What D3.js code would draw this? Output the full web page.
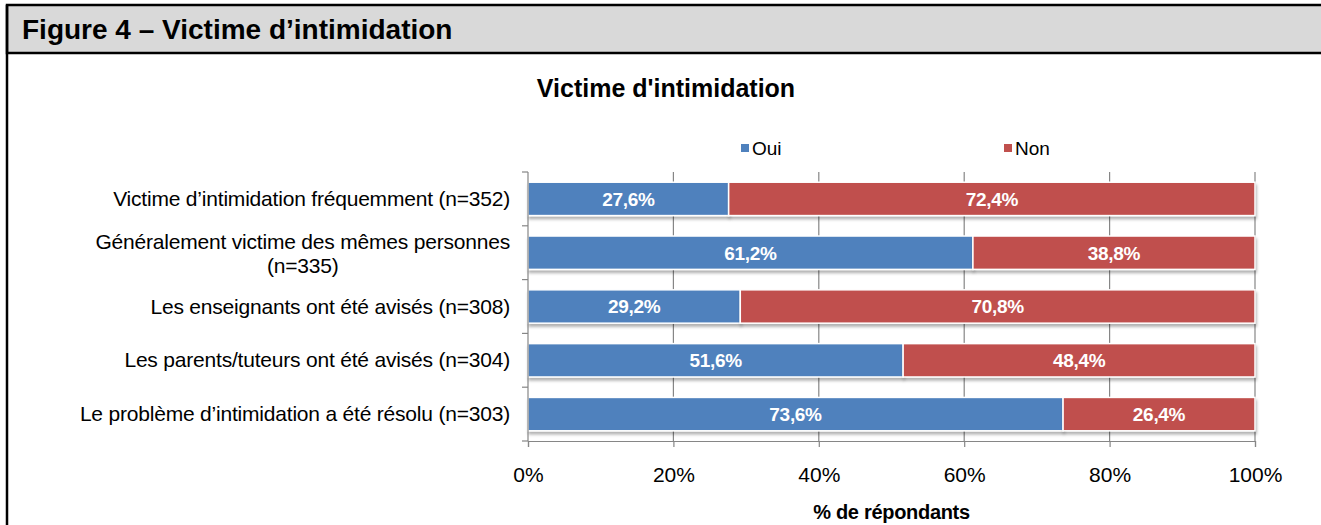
<!DOCTYPE html>
<html>
<head>
<meta charset="utf-8">
<script src="https://cdn.jsdelivr.net/npm/d3@7"></script>
<style>
  body { margin: 0; background: #fff; }
  svg { display: block; font-family: "Liberation Sans", Arial, sans-serif; }
</style>
</head>
<body>
<div class="chart"></div>
<script>
var categories = [
  ["Victime d\u2019intimidation fréquemment (n=352)"],
  ["Généralement victime des mêmes personnes", "(n=335)"],
  ["Les enseignants ont été avisés (n=308)"],
  ["Les parents/tuteurs ont été avisés (n=304)"],
  ["Le problème d\u2019intimidation  a été résolu (n=303)"]
];
var oui = [27.6, 61.2, 29.2, 51.6, 73.6];
var non = [72.4, 38.8, 70.8, 48.4, 26.4];
var seriesNames = ["Oui", "Non"];
var seriesColors = ["#4f81bd", "#c0504d"];
var xTicks = [0, 20, 40, 60, 80, 100];

var W = 1321, H = 525;
var margin = {top: 172, left: 528, right: 66, bottom: 84};
var width = W - margin.left - margin.right,
    height = H - margin.top - margin.bottom;

var svg = d3.select(".chart").append("svg")
    .attr("width", W)
    .attr("height", H);

// drop shadow under the bars
var defs = svg.append("defs");
var f = defs.append("filter").attr("id", "shadow")
    .attr("x", "-5%").attr("y", "-20%").attr("width", "110%").attr("height", "160%");
f.append("feDropShadow").attr("dx", 1).attr("dy", 3)
    .attr("stdDeviation", 1.5).attr("flood-color", "#000").attr("flood-opacity", 0.3);

// frame: header band + left border
svg.append("rect").attr("x", 7).attr("y", 5).attr("width", W).attr("height", 48)
    .attr("fill", "#d9d9d9").attr("stroke", "#000").attr("stroke-width", 2.5);
svg.append("line").attr("x1", 7).attr("x2", 7).attr("y1", 5).attr("y2", H)
    .attr("stroke", "#000").attr("stroke-width", 2.5);
svg.append("text").attr("x", 22).attr("y", 39)
    .attr("font-size", 28).attr("font-weight", "bold").attr("fill", "#000")
    .text("Figure 4 \u2013 Victime d\u2019intimidation");

svg.append("text").attr("x", 666).attr("y", 97)
    .attr("text-anchor", "middle").attr("font-size", 25).attr("font-weight", "bold")
    .text("Victime d'intimidation");

// legend
var legendX = [741, 1004];
seriesNames.forEach(function(name, i) {
  svg.append("rect").attr("x", legendX[i]).attr("y", 144).attr("width", 8).attr("height", 8)
      .attr("fill", seriesColors[i]);
  svg.append("text").attr("x", legendX[i] + 11).attr("y", 155)
      .attr("font-size", 19).text(name);
});

var g = svg.append("g")
    .attr("transform", "translate(" + margin.left + "," + margin.top + ")");

var x = d3.scaleLinear().domain([0, 100]).range([0, width]);
var y = d3.scaleBand().domain(d3.range(categories.length)).range([0, height]).paddingInner(0.38).paddingOuter(0.19);
var band = d3.scaleBand().domain(d3.range(categories.length)).range([0, height]);

// gridlines
g.selectAll(".grid").data(xTicks.slice(1)).enter().append("line")
    .attr("x1", function(d) { return x(d); }).attr("x2", function(d) { return x(d); })
    .attr("y1", 0).attr("y2", height)
    .attr("stroke", "#868686").attr("stroke-width", 1.2);

var stacked = oui.map(function(v, i) {
  return [{s: 0, x0: 0, x1: v}, {s: 1, x0: v, x1: v + non[i]}];
});

var rows = g.selectAll(".row").data(stacked).enter().append("g")
    .attr("class", "row")
    .attr("transform", function(d, i) { return "translate(0," + y(i) + ")"; });

rows.selectAll("rect").data(function(d) { return d; }).enter().append("rect")
    .attr("x", function(d) { return x(d.x0); })
    .attr("width", function(d) { return x(d.x1) - x(d.x0); })
    .attr("y", 0).attr("height", y.bandwidth())
    .attr("fill", function(d) { return seriesColors[d.s]; })
    .attr("stroke", "#fff").attr("stroke-width", 1.5)
    .attr("filter", "url(#shadow)");

rows.selectAll(".lbl").data(function(d) { return d; }).enter().append("text")
    .attr("class", "lbl")
    .attr("x", function(d) { return x((d.x0 + d.x1) / 2); })
    .attr("y", y.bandwidth() / 2 + 7)
    .attr("text-anchor", "middle").attr("fill", "#fff")
    .attr("font-size", 19).attr("font-weight", "bold").attr("letter-spacing", -0.3)
    .text(function(d) { return d3.format(".1f")(d.x1 - d.x0).replace(".", ",") + "%"; });

// left axis
var yAxis = g.append("g").attr("class", "y axis");
yAxis.append("line").attr("x1", 0).attr("x2", 0).attr("y1", 0).attr("y2", height)
    .attr("stroke", "#868686").attr("stroke-width", 1.2);
yAxis.selectAll(".tk").data(d3.range(categories.length + 1)).enter().append("line")
    .attr("x1", -6).attr("x2", 0)
    .attr("y1", function(d) { return d * band.step(); })
    .attr("y2", function(d) { return d * band.step(); })
    .attr("stroke", "#868686").attr("stroke-width", 1.2);

yAxis.selectAll(".cat").data(categories).enter().append("text")
    .attr("class", "cat")
    .attr("font-size", 21).attr("letter-spacing", -0.2).attr("fill", "#000")
    .each(function(lines, i) {
      var t = d3.select(this);
      var cy = y(i) + y.bandwidth() / 2;
      if (lines.length === 1) {
        t.attr("x", -18).attr("y", cy + 7).attr("text-anchor", "end").text(lines[0]);
      } else {
        t.attr("x", -18).attr("y", cy - 4).attr("text-anchor", "end").text(lines[0]);
        var w = this.getComputedTextLength();
        yAxis.append("text").attr("font-size", 21).attr("letter-spacing", -0.2).attr("fill", "#000")
            .attr("x", -18 - w / 2).attr("y", cy + 20).attr("text-anchor", "middle")
            .text(lines[1]);
      }
    });

// bottom axis
var xAxis = d3.axisBottom(x).tickValues(xTicks).tickSize(6).tickPadding(20)
    .tickFormat(function(d) { return d + "%"; });
var xg = g.append("g").attr("transform", "translate(0," + height + ")").call(xAxis);
xg.select(".domain").attr("stroke", "#868686").attr("stroke-width", 1.2);
xg.selectAll(".tick line").attr("stroke", "#868686").attr("stroke-width", 1.2);
xg.selectAll(".tick text").attr("font-size", 21).attr("fill", "#000")
    .attr("font-family", "\"Liberation Sans\", Arial, sans-serif");

svg.append("text").attr("x", margin.left + width / 2).attr("y", 519)
    .attr("text-anchor", "middle").attr("font-size", 20).attr("font-weight", "bold")
    .attr("letter-spacing", -0.3)
    .text("% de répondants");
</script>
</body>
</html>
